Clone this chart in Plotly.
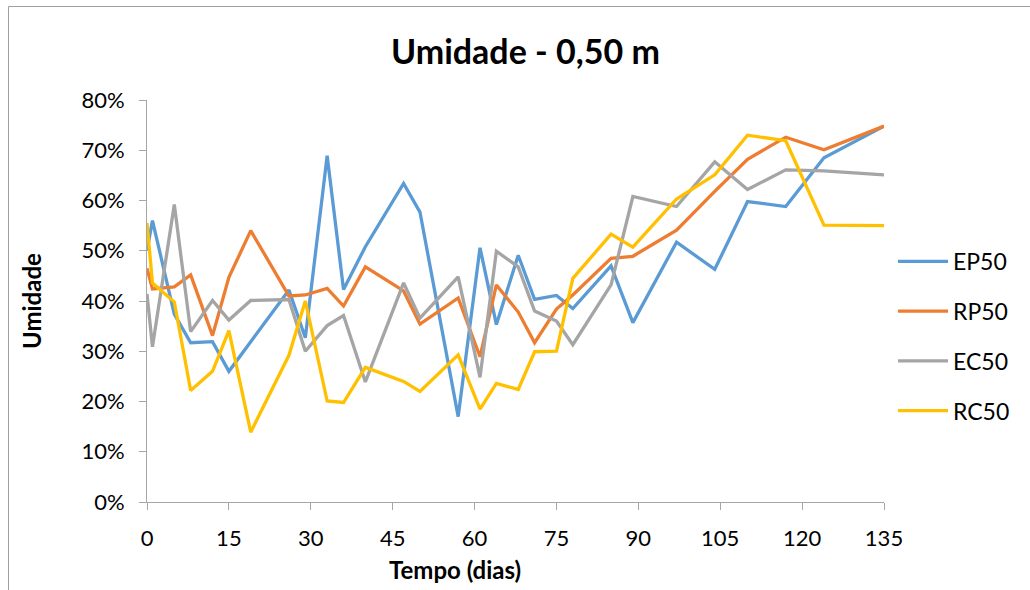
import plotly.graph_objects as go

dias = [0, 1, 5, 8, 12, 15, 19, 26, 29, 33, 36, 40, 47, 50, 57, 61, 64, 68, 71, 75, 78, 85, 89, 97, 104, 110, 117, 124, 135]

ep50 = [50.0, 56.0, 37.4, 31.7, 31.9, 26.0, 31.9, 42.2, 32.7, 68.9, 42.3, 50.8, 63.4, 57.7, 17.0, 50.6, 35.3, 49.1, 40.3, 41.1, 38.5, 47.0, 35.7, 51.7, 46.3, 59.8, 58.8, 68.5, 74.8]
rp50 = [46.5, 42.4, 42.8, 45.2, 33.1, 44.7, 54.0, 41.0, 41.2, 42.5, 39.0, 46.8, 42.0, 35.4, 40.6, 28.9, 43.2, 37.8, 31.7, 38.4, 41.2, 48.5, 48.9, 54.1, 61.8, 68.2, 72.6, 70.1, 74.8]
ec50 = [41.4, 30.9, 59.2, 33.9, 40.1, 36.2, 40.1, 40.3, 30.0, 35.1, 37.1, 23.9, 43.6, 36.6, 44.8, 24.8, 49.9, 46.8, 38.0, 36.0, 31.3, 43.2, 60.8, 58.8, 67.7, 62.2, 66.1, 65.9, 65.1]
rc50 = [55.5, 43.6, 39.8, 22.2, 26.0, 34.1, 13.9, 29.2, 40.0, 20.1, 19.8, 26.8, 24.0, 22.0, 29.3, 18.5, 23.6, 22.4, 29.9, 30.0, 44.5, 53.3, 50.7, 60.3, 65.1, 73.0, 71.9, 55.1, 55.0]

series_names = ["EP50", "RP50", "EC50", "RC50"]
series_values = [ep50, rp50, ec50, rc50]
colors = ["#5B9BD5", "#ED7D31", "#A5A5A5", "#FFC000"]

FONT = "Lato"

fig = go.Figure()
for name, vals, col in zip(series_names, series_values, colors):
    fig.add_trace(go.Scatter(
        x=dias, y=[v / 100 for v in vals], mode="lines", name=name,
        legendgroup=name,
        line=dict(color=col, width=3.3),
    ))

W, H = 1030, 590
L, R, T, B = 147, 146, 100, 88
pw, ph = W - L - R, H - T - B

def px_x(p):
    return (p - L) / pw

def px_y(p):
    return (H - B - p) / ph

fig.update_layout(
    width=W, height=H,
    margin=dict(l=L, r=R, t=T, b=B),
    paper_bgcolor="white", plot_bgcolor="white",
    font=dict(family=FONT, size=22, color="black"),
    showlegend=True,
    legend=dict(
        x=px_x(893), y=px_y(240), xanchor="left", yanchor="top",
        font=dict(family=FONT, size=23, color="black"),
        tracegroupgap=16.8, itemwidth=50, bgcolor="rgba(0,0,0,0)",
    ),
    xaxis=dict(
        range=[0, 135], dtick=15, tick0=0,
        showline=True, linecolor="#A6A6A6", linewidth=1,
        ticks="outside", ticklen=7, tickcolor="#A6A6A6",
        showgrid=False, zeroline=False,
        tickfont=dict(family=FONT, size=22),
        ticklabelstandoff=10,
    ),
    yaxis=dict(
        range=[0, 0.8], dtick=0.1, tick0=0, tickformat=".0%",
        showline=True, linecolor="#A6A6A6", linewidth=1,
        ticks="outside", ticklen=7, tickcolor="#A6A6A6",
        showgrid=False, zeroline=False,
        tickfont=dict(family=FONT, size=22),
        ticklabelstandoff=10,
    ),
    shapes=[dict(
        type="rect", xref="paper", yref="paper",
        x0=px_x(8.5), x1=px_x(1100), y0=px_y(650), y1=px_y(6.5),
        line=dict(color="#A0A0A0", width=1), fillcolor="rgba(0,0,0,0)",
        layer="below",
    )],
    annotations=[
        dict(text="<b>Umidade - 0,50 m</b>", xref="paper", yref="paper",
             x=px_x(525), y=px_y(50), xanchor="center", yanchor="middle",
             showarrow=False, font=dict(family=FONT, size=34, color="black")),
        dict(text="<b>Tempo (dias)</b>", xref="paper", yref="paper",
             x=px_x(455), y=px_y(569), xanchor="center", yanchor="middle",
             showarrow=False, font=dict(family=FONT, size=24, color="black")),
        dict(text="<b>Umidade</b>", xref="paper", yref="paper",
             x=px_x(31), y=px_y(301), xanchor="center", yanchor="middle",
             textangle=-90,
             showarrow=False, font=dict(family=FONT, size=24, color="black")),
    ],
)

fig.write_html("out.html")
